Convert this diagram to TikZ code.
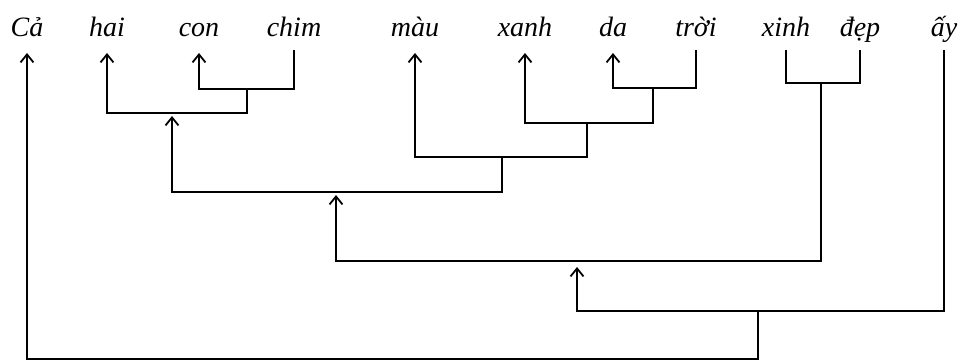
\documentclass[tikz,border=0pt]{standalone}
\usepackage{fontspec}
\setmainfont{Liberation Serif}
\usetikzlibrary{arrows.meta}

\tikzset{
  word/.style={anchor=base, font=\fontsize{14}{16}\selectfont\itshape,
    inner sep=0pt, text depth=4pt, outer sep=3pt},
  link/.style={line width=0.9pt},
  head/.style={link, -{Straight Barb[length=4pt,width=6.5pt]}, shorten >=1.5pt},
}

\begin{document}
\begin{tikzpicture}[x=0.5pt,y=-0.5pt]
\useasboundingbox (0,0) rectangle (962,361);
% the words of the sentence
\node[word] (ca)   at (27,36)  {Cả};
\node[word] (hai)  at (107,36) {hai};
\node[word] (con)  at (199,36) {con};
\node[word] (chim) at (294,36) {chim};
\node[word] (mau)  at (415,36) {màu};
\node[word] (xanh) at (525,36) {xanh};
\node[word] (da)   at (613,36) {da};
\node[word] (troi) at (696,36) {trời};
\node[word] (xinh) at (786,36) {xinh};
\node[word] (dep)  at (860,36) {đẹp};
\node[word] (ay)   at (944,36) {ấy};
% junctions of the brackets
\coordinate (c1) at (247,89);
\coordinate (c2) at (172,113);
\coordinate (d1) at (653,88);
\coordinate (d2) at (587,123);
\coordinate (m1) at (502,157);
\coordinate (h1) at (336,192);
\coordinate (x1) at (821,83);
\coordinate (k1) at (577,261);
\coordinate (k2) at (758,311);
\coordinate (b1) at (400,359);
% brackets, arrow points to the head
\draw[head] (chim.south) |- (c1) -| (con.south);
\draw[head] (c1) |- (c2) -| (hai.south);
\draw[head] (troi.south) |- (d1) -| (da.south);
\draw[head] (d1) |- (d2) -| (xanh.south);
\draw[head] (d2) |- (m1) -| (mau.south);
\draw[head] (m1) |- (h1) -| (c2);
\draw[link] (xinh.south) |- (x1) -| (dep.south);
\draw[head] (x1) |- (k1) -| (h1);
\draw[head,shorten >=3pt] (ay.south) |- (k2) -| (k1);
\draw[head] (k2) |- (b1) -| (ca.south);
\end{tikzpicture}
\end{document}
